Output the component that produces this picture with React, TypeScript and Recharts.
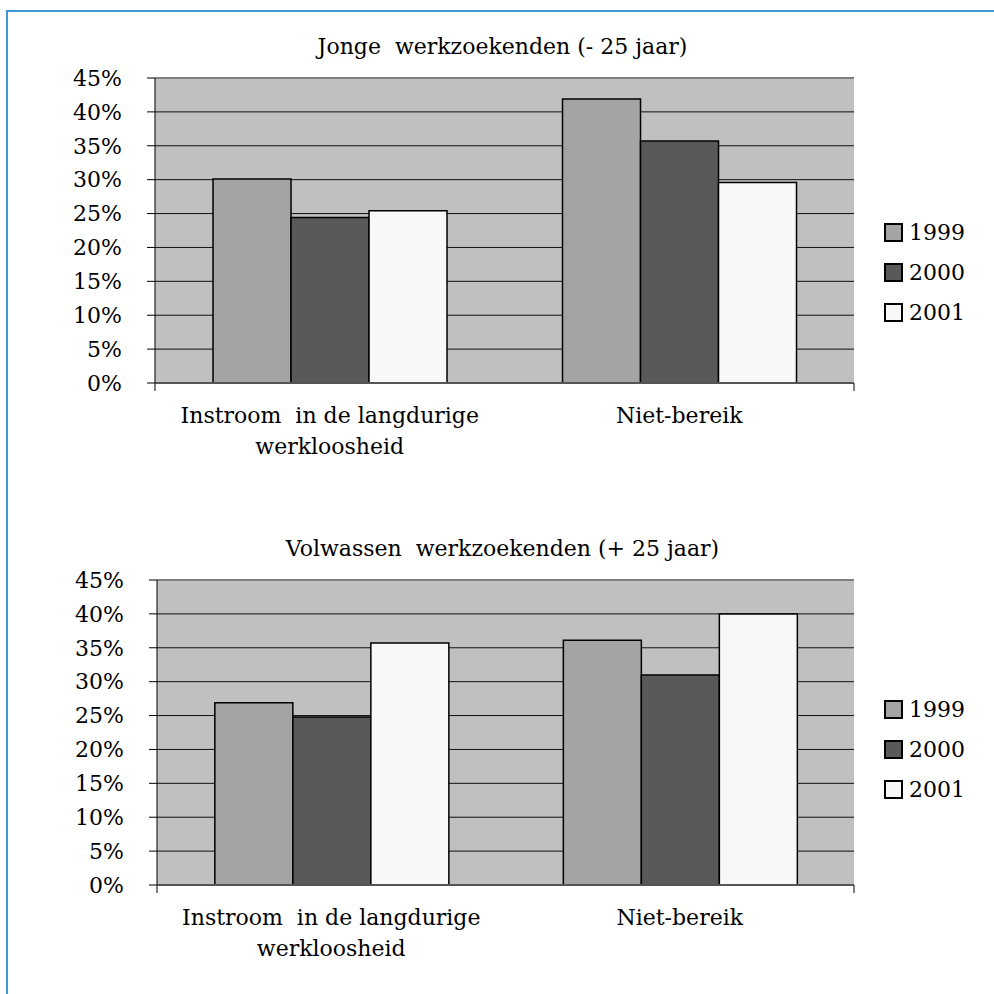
import {
  BarChart,
  Bar,
  XAxis,
  YAxis,
  CartesianGrid,
  ReferenceLine,
} from "recharts";

const categories = ["Instroom  in de langdurige\nwerkloosheid", "Niet-bereik"];
const years = ["1999", "2000", "2001"];
const yearColors = ["#a4a4a4", "#595959", "#f8f8f8"];
const yTicks = [0, 5, 10, 15, 20, 25, 30, 35, 40, 45];

// Jonge werkzoekenden (- 25 jaar)
const jonge1999 = [30.1, 41.9];
const jonge2000 = [24.4, 35.7];
const jonge2001 = [25.4, 29.6];

// Volwassen werkzoekenden (+ 25 jaar)
const volw1999 = [26.9, 36.1];
const volw2000 = [24.8, 31.0];
const volw2001 = [35.7, 40.0];

const FONT = "'DejaVu Serif', serif";
const FS = 22;

const toRows = (s1: number[], s2: number[], s3: number[]) =>
  categories.map((name, i) => ({
    name,
    "1999": s1[i],
    "2000": s2[i],
    "2001": s3[i],
  }));

const CatTick = (props: any) => {
  const { x, y, payload } = props;
  const lines = String(payload.value).split("\n");
  return (
    <text
      x={x}
      y={y}
      textAnchor="middle"
      fontFamily={FONT}
      fontSize={FS}
      fill="#000"
      style={{ whiteSpace: "pre" }}
    >
      {lines.map((l, i) => (
        <tspan key={i} x={x} dy={31}>
          {l}
        </tspan>
      ))}
    </text>
  );
};

const Legend = ({ top }: { top: number }) => (
  <div style={{ position: "absolute", left: 884, top, fontFamily: FONT, fontSize: FS }}>
    {years.map((y, i) => (
      <div key={y} style={{ display: "flex", alignItems: "center", height: 40 }}>
        <span
          style={{
            width: 15,
            height: 15,
            background: yearColors[i],
            border: "2px solid #000",
            marginRight: 6,
          }}
        />
        <span>{y}</span>
      </div>
    ))}
  </div>
);

const Panel = ({
  title,
  data,
  top,
  left,
}: {
  title: string;
  data: any[];
  top: number;
  left: number;
}) => (
  <div style={{ position: "absolute", left: 0, top, width: 994, height: 480 }}>
    <div
      style={{
        position: "absolute",
        left: 0,
        width: 1005,
        top: 34,
        textAlign: "center",
        fontFamily: FONT,
        fontSize: FS,
        whiteSpace: "pre",
      }}
    >
      {title}
    </div>
    <BarChart
      width={994}
      height={480}
      data={data}
      margin={{ top: 78, right: 140, left: 0, bottom: 16 }}
      barCategoryGap="16.6%"
      barGap={0}
    >
      <CartesianGrid
        xAxisId="b"
        vertical={false}
        fill="#c0c0c0"
        fillOpacity={1}
        stroke="#111"
      />
      <XAxis
        xAxisId="a"
        type="number"
        domain={[0, 2]}
        ticks={[0, 1, 2]}
        tickFormatter={() => ""}
        height={1}
        axisLine={false}
        tickSize={8}
        tickLine={{ stroke: "#555", strokeWidth: 1.5 }}
      />
      <XAxis
        xAxisId="b"
        dataKey="name"
        height={80}
        tickLine={false}
        axisLine={false}
        tick={<CatTick />}
        interval={0}
      />
      <YAxis
        width={left}
        domain={[0, 45]}
        ticks={yTicks}
        tickFormatter={(v) => `${v}%`}
        tickSize={8}
        tickMargin={25}
        axisLine={{ stroke: "#000" }}
        tickLine={{ stroke: "#000" }}
        tick={{ fill: "#000", fontSize: FS, fontFamily: FONT }}
      />
      <ReferenceLine xAxisId="b" y={45} stroke="#808080" strokeWidth={2} />
      <ReferenceLine xAxisId="b" y={0} stroke="#555" strokeWidth={2} />
      <ReferenceLine xAxisId="a" x={2} stroke="#808080" strokeWidth={2} />
      {years.map((y, i) => (
        <Bar
          key={y}
          xAxisId="b"
          dataKey={y}
          fill={yearColors[i]}
          stroke="#000"
          strokeWidth={1.5}
          isAnimationActive={false}
        />
      ))}
    </BarChart>
  </div>
);

export default function App() {
  return (
    <div
      style={{
        position: "absolute",
        left: 0,
        top: 0,
        width: 994,
        height: 994,
        background: "#fff",
        overflow: "hidden",
      }}
    >
      <div
        style={{
          position: "absolute",
          left: 6,
          top: 10,
          right: -10,
          bottom: -10,
          borderTop: "2px solid #3d97d3",
          borderLeft: "2px solid #3d97d3",
        }}
      />
      <Panel
        title="Jonge  werkzoekenden (- 25 jaar)"
        data={toRows(jonge1999, jonge2000, jonge2001)}
        top={0}
        left={155}
      />
      <Legend top={212} />
      <Panel
        title="Volwassen  werkzoekenden (+ 25 jaar)"
        data={toRows(volw1999, volw2000, volw2001)}
        top={502}
        left={157}
      />
      <Legend top={689} />
    </div>
  );
}
